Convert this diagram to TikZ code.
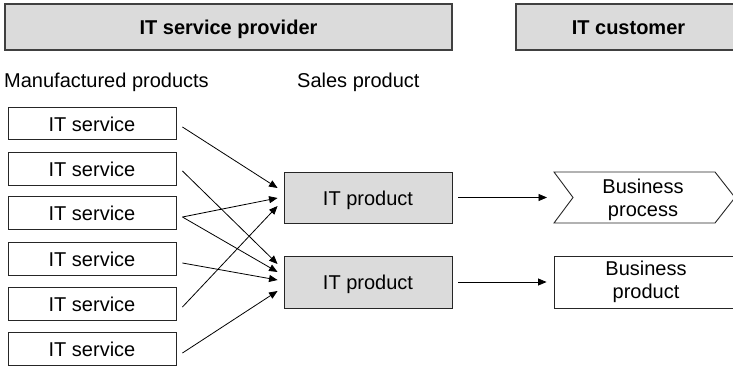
\documentclass[tikz,border=0pt]{standalone}
\usepackage{fontspec}
\setmainfont{Liberation Sans}
\usetikzlibrary{arrows.meta,calc}
\begin{document}
\begin{tikzpicture}[x=1pt,y=-1pt,
  txt/.style={font=\fontsize{20}{23.5}\selectfont},
  oneline/.style={text height=15pt, text depth=0pt},
  header/.style={draw=black!75, line width=1.2pt, fill=black!14,
    minimum height=46pt, inner sep=0pt, oneline,
    font=\fontsize{20}{23.5}\selectfont\bfseries},
  svcbox/.style={draw=black!85, line width=0.9pt, minimum width=168pt,
    minimum height=32.5pt, inner sep=0pt, oneline, txt},
  prodbox/.style={draw=black!85, line width=0.9pt, fill=black!14,
    minimum width=168pt, minimum height=51pt, inner sep=0pt, oneline, txt},
  link/.style={line width=0.8pt, -{Triangle[length=8.5pt,width=7pt]}},
]
\useasboundingbox (0,0) rectangle (733,367);

% headers
\node[header, minimum width=447pt] (prov) at (228.5,27) {IT service provider};
\node[header, minimum width=225pt] (cust) at (628.5,27) {IT customer};

% column captions
\node[txt, anchor=base west, inner sep=0pt] (mfg) at (4,87) {Manufactured products};
\node[txt, anchor=base west, inner sep=0pt] (sales) at (297,87) {Sales product};

% manufactured services
\foreach \i/\y in {1/123.5,2/169,3/213,4/259,5/304,6/349}
  \node[svcbox] (s\i) at (92,\y) {IT service};

% sales products
\node[prodbox] (p1) at (368,197.5) {IT product};
\node[prodbox, minimum height=52pt] (p2) at (368,282) {IT product};

% business process (chevron)
\node[txt, align=center, inner sep=0pt] (bproc) at (643,199.7) {Business\\process};
\draw[line width=0.9pt, draw=black!85, line join=miter]
  (554,172) -- (715,172) -- (735,197.5) -- (715,223) -- (554,223) -- (573,197.5) -- cycle;
\coordinate (bprocin) at (554,197.5);

% business product
\node[draw=black!85, line width=0.9pt, minimum width=184pt, minimum height=52pt,
  inner sep=0pt, align=center, txt] (bprod) at (646,282) {Business\\product};

% services feeding products
\draw[link] ($(s1.east)+(6,3.5)$) -- ($(p1.west)+(-6,-9.5)$);
\draw[link] ($(s2.east)+(6,2)$)   -- ($(p2.west)+(-6,-18)$);
\draw[link] ($(s3.east)+(6,4)$)   -- ($(p1.west)+(-6,0.5)$);
\draw[link] ($(s3.east)+(6,4)$)   -- ($(p2.west)+(-6,-10)$);
\draw[link] ($(s4.east)+(6,4)$)   -- ($(p2.west)+(-6,-2)$);
\draw[link] ($(s5.east)+(6,3)$)   -- ($(p1.west)+(-6,8.5)$);
\draw[link] ($(s6.east)+(6,4)$)   -- ($(p2.west)+(-6,9)$);

% products to customer side
\draw[link, shorten <=6pt, shorten >=7pt] (p1.east) -- (bprocin);
\draw[link, shorten <=6pt, shorten >=7pt] (p2.east) -- (bprod.west);
\end{tikzpicture}
\end{document}
